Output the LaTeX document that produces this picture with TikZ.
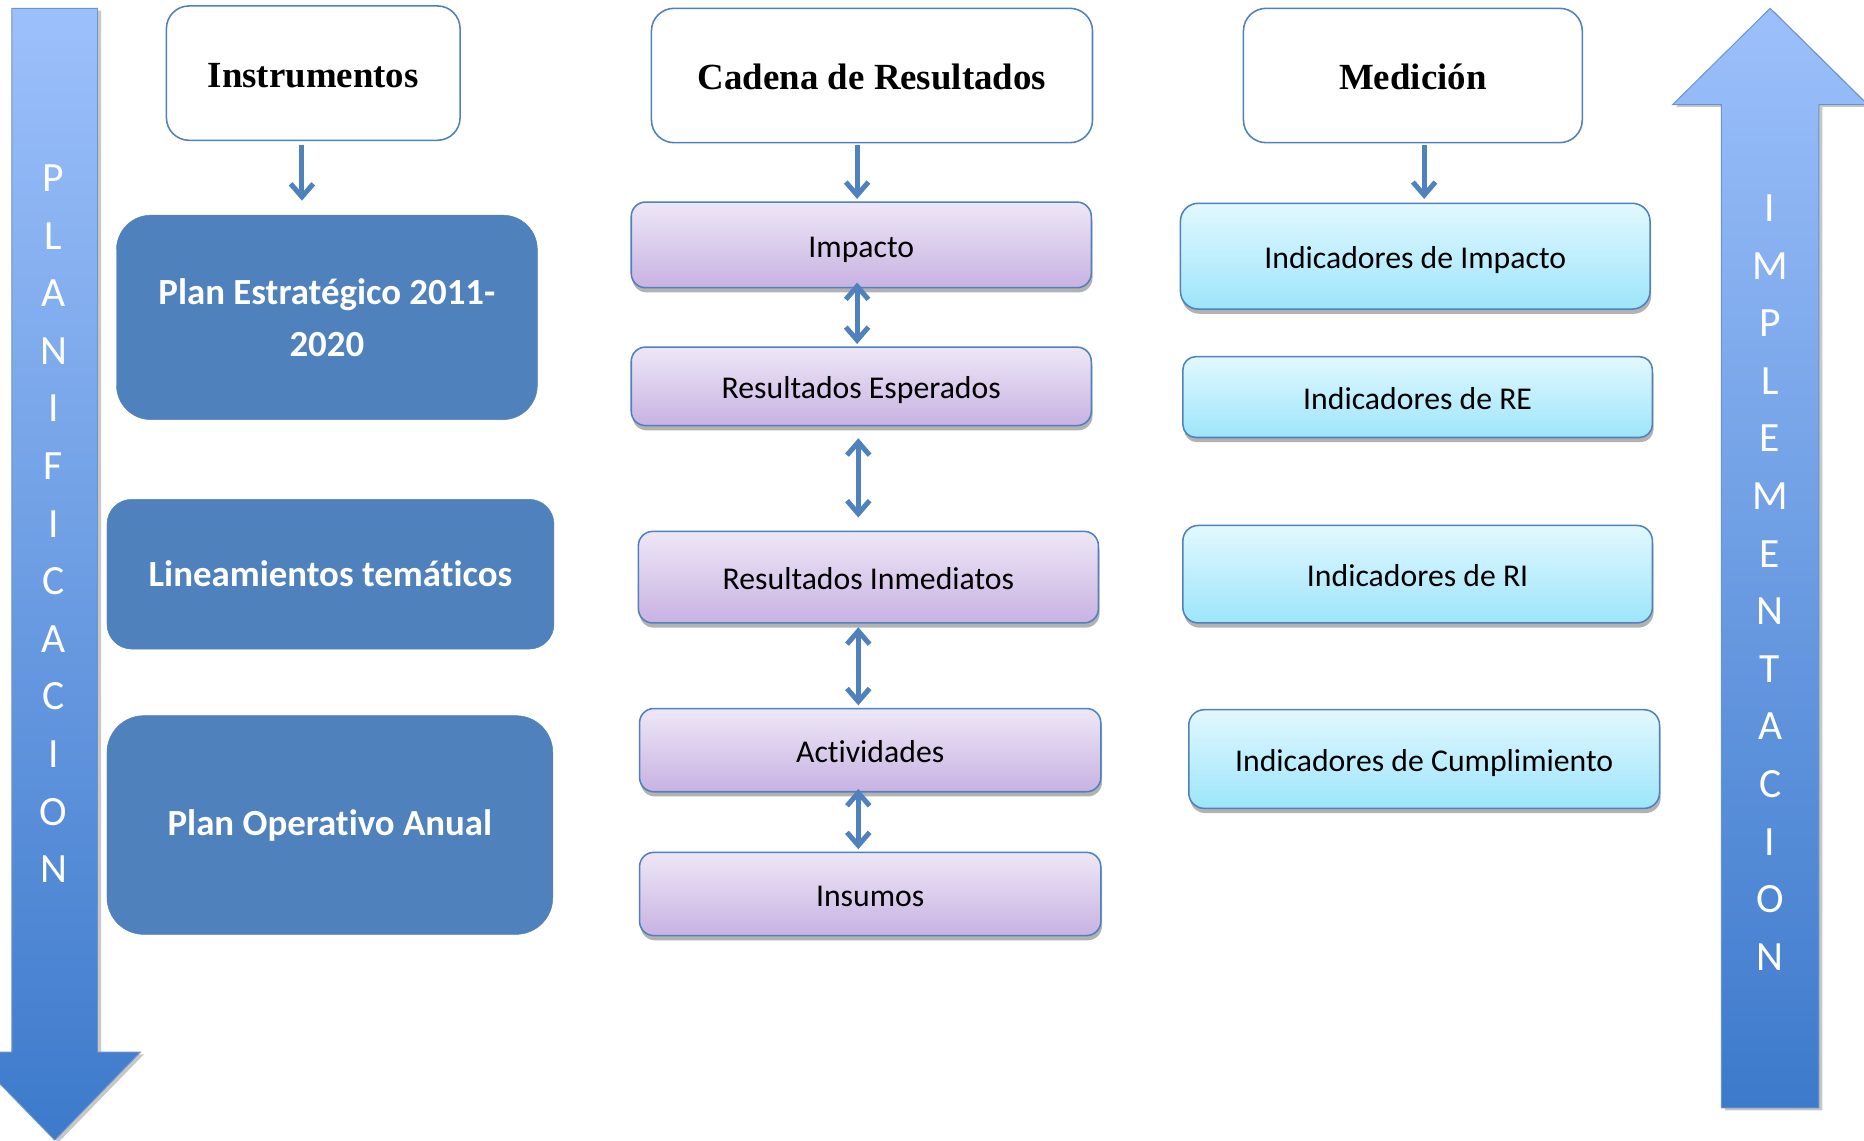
\documentclass[tikz,border=0pt]{standalone}
\usepackage{fontspec}
\setmainfont[Ligatures=NoCommon]{Carlito}
\newfontfamily\tnr{Liberation Serif}
\usetikzlibrary{arrows.meta,shadows,calc}
\definecolor{ofblue}{HTML}{4F81BD}
\definecolor{purtop}{HTML}{EEE7F7}
\definecolor{purbot}{HTML}{C8B2E2}
\definecolor{cyantop}{HTML}{E2F8FE}
\definecolor{cyanbot}{HTML}{9DE5FB}
\definecolor{arrtop}{HTML}{9CC0FB}
\definecolor{arrbot}{HTML}{3D7ACB}
\tikzset{
  hdr/.style={draw=ofblue, line width=1.3pt, fill=white, rounded corners=19pt,
    font=\tnr\bfseries\fontsize{31}{37}\selectfont, inner sep=0pt,
    text height=24pt, text depth=0pt},
  darkbox/.style={draw=ofblue, fill=ofblue, text=white, align=center,
    font=\bfseries\fontsize{31}{44}\selectfont, inner sep=0pt},
  purbox/.style={draw=ofblue, line width=1.3pt, top color=purtop, bottom color=purbot,
    rounded corners=12pt, font=\fontsize{26.7}{32}\selectfont, inner sep=0pt,
    text height=21pt, text depth=0pt,
    drop shadow={shadow xshift=1pt, shadow yshift=-4pt, opacity=0.3, fill=black}},
  cybox/.style={draw=ofblue, line width=1.3pt, top color=cyantop, bottom color=cyanbot,
    rounded corners=13pt, font=\fontsize{26.7}{32}\selectfont, inner sep=0pt,
    text height=21pt, text depth=0pt,
    drop shadow={shadow xshift=1pt, shadow yshift=-4pt, opacity=0.3, fill=black}},
  bigarrow/.style={draw=ofblue!85, line width=0.8pt, top color=arrtop, bottom color=arrbot,
    drop shadow={shadow xshift=3pt, shadow yshift=-2pt, opacity=0.22, fill=black}},
  vletters/.style={text=white, align=center, font=\fontsize{35}{48.45}\selectfont, inner sep=0pt},
  conn/.style={draw=ofblue, line width=4.2pt, -{Straight Barb[length=11pt,width=19pt]}},
  dconn/.style={draw=ofblue, line width=4.2pt, {Straight Barb[length=11pt,width=19pt]}-{Straight Barb[length=11pt,width=19pt]}}
}
\begin{document}
\begin{tikzpicture}[x=1pt,y=-1pt]
\useasboundingbox (0,0) rectangle (1568,959);
\clip (0,0) rectangle (1568,959);
\fill[white] (0,0) rectangle (1568,959);

% big arrows
\path[bigarrow] (10,7) -- (82,7) -- (82,885) -- (118,885) -- (46,959) -- (-26,885) -- (10,885) -- cycle;
\path[bigarrow] (1448,932) -- (1448,88) -- (1407,88) -- (1489,7) -- (1571,88) -- (1530,88) -- (1530,932) -- cycle;
\node[vletters] (planif) at (45,440.5) {P\\L\\A\\N\\I\\F\\I\\C\\A\\C\\I\\O\\N};
\node[vletters] (implem) at (1489,490) {I\\M\\P\\L\\E\\M\\E\\N\\T\\A\\C\\I\\O\\N};

% headers
\node[hdr, minimum width=247pt, minimum height=113pt] (instr) at (263.5,61.5) {Instrumentos};
\node[hdr, minimum width=371pt, minimum height=113pt] (cadena) at (733.5,63.5) {Cadena de Resultados};
\node[hdr, minimum width=285pt, minimum height=113pt] (medicion) at (1188.5,63.5) {Medición};

% instruments
\node[darkbox, rounded corners=29pt, minimum width=354pt, minimum height=172pt] (plan) at (275,267) {Plan Estratégico 2011-\\2020};
\node[darkbox, rounded corners=21pt, minimum width=376pt, minimum height=126pt] (linea) at (278,483) {Lineamientos temáticos};
\node[darkbox, rounded corners=31pt, minimum width=375pt, minimum height=184pt] (poa) at (277.5,694) {Plan Operativo Anual};

% results chain
\node[purbox, minimum width=387pt, minimum height=72pt] (impacto) at (724.5,206) {Impacto};
\node[purbox, minimum width=387pt, minimum height=66pt] (resesp) at (724.5,325) {Resultados Esperados};
\node[purbox, minimum width=387pt, minimum height=77pt] (resinm) at (730.5,485.5) {Resultados Inmediatos};
\node[purbox, minimum width=388pt, minimum height=70pt] (activ) at (732,631) {Actividades};
\node[purbox, minimum width=388pt, minimum height=70pt] (insumos) at (732,752) {Insumos};

% indicators
\node[cybox, rounded corners=15pt, minimum width=395pt, minimum height=89pt] (indimp) at (1190.5,215.5) {Indicadores de Impacto};
\node[cybox, rounded corners=11pt, minimum width=395pt, minimum height=68pt] (indre) at (1192.5,334) {Indicadores de RE};
\node[cybox, rounded corners=13pt, minimum width=395pt, minimum height=82pt] (indri) at (1192.5,483) {Indicadores de RI};
\node[cybox, rounded corners=13pt, minimum width=396pt, minimum height=83pt] (indcum) at (1198,638.5) {Indicadores de Cumplimiento};

% connectors
\draw[conn] ($(instr.south)+(-9.5,3)$) -- ($(plan.north)+(-21,-12)$);
\draw[conn] ($(cadena.south)+(-12.5,1)$) -- ($(impacto.north)+(-3.5,-2)$);
\draw[conn] ($(medicion.south)+(9.5,1)$) -- ($(indimp.north)+(7.5,-3)$);
\draw[dconn] ($(impacto.south)+(-3.5,-5)$) -- ($(resesp.north)+(-3.5,-2)$);
\draw[dconn] ($(resesp.south)+(-2.5,10)$) -- ($(resinm.north)+(-8.5,-11)$);
\draw[dconn] ($(resinm.south)+(-8.5,3)$) -- ($(activ.north)+(-10,-2)$);
\draw[dconn] ($(activ.south)+(-10,-3)$) -- ($(insumos.north)+(-10,-2)$);
\end{tikzpicture}
\end{document}
